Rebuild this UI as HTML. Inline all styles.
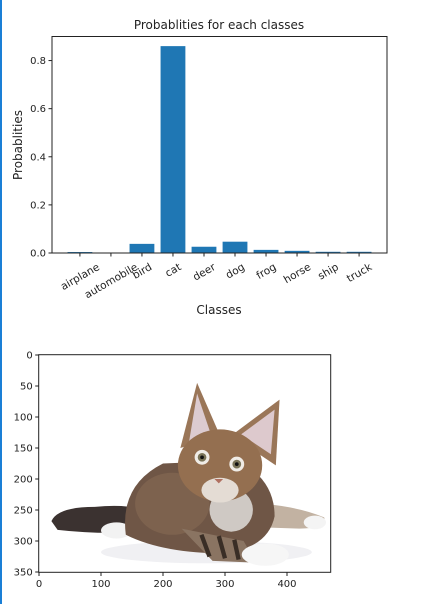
<!DOCTYPE html>
<html><head><meta charset="utf-8"><style>
body{margin:0;background:#fff;width:437px;height:604px;overflow:hidden;position:relative;font-family:"Liberation Sans","DejaVu Sans",sans-serif}
#edge{position:absolute;left:0;top:0;width:2px;height:604px;background:#1a7fd6}
svg{position:absolute;left:0;top:0}
text{font-family:"DejaVu Sans","Liberation Sans",sans-serif;fill:#222}
</style></head><body>
<div id="edge"></div>
<svg id="chart" width="437" height="604">
<text x="219" y="29" font-size="12" text-anchor="middle">Probablities for each classes</text>
<text transform="translate(22,145) rotate(-90)" font-size="12" text-anchor="middle">Probablities</text>
<text x="219" y="314" font-size="12" text-anchor="middle">Classes</text>
<g id="bars"></g><g id="xt"></g><g id="yt"></g>
<rect x="52" y="36.5" width="335" height="216.5" fill="none" stroke="#222" stroke-width="1"/>
</svg>
<svg width="437" height="604">
<svg x="38.7" y="354.7" width="292" height="217.6" viewBox="-0.5 -0.5 471 351" preserveAspectRatio="none">
<rect x="-1" y="-1" width="473" height="353" fill="#fff"/>
<ellipse cx="270" cy="318" rx="170" ry="18" fill="#f0f0f3"/>
<path d="M20 268 Q30 245 90 245 Q140 240 170 250 L170 285 Q100 290 30 282 Z" fill="#3b3230"/>
<ellipse cx="125" cy="283" rx="25" ry="13" fill="#f2f2f2"/>
<path d="M360 240 Q420 245 460 262 Q465 280 420 280 L360 278 Z" fill="#c2b2a2"/>
<ellipse cx="445" cy="270" rx="18" ry="11" fill="#f4f4f4"/>
<path d="M140 290 Q130 210 200 175 L320 170 Q380 200 380 260 Q370 310 300 320 Q200 320 140 290 Z" fill="#6f5646"/>
<ellipse cx="215" cy="240" rx="60" ry="50" fill="#7d624e"/>
<path d="M230 280 L330 300 L350 335 L280 332 Z" fill="#8a7462"/>
<path d="M262 290 L275 325 M290 292 L300 328 M315 298 L322 330" stroke="#3a2e26" stroke-width="7"/>
<ellipse cx="310" cy="250" rx="35" ry="35" fill="#cfc9c4"/>
<ellipse cx="365" cy="322" rx="38" ry="18" fill="#f6f6f6"/>
<path d="M228 150 L255 45 L292 130 Z" fill="#9a7658"/>
<path d="M242 140 L255 62 L278 130 Z" fill="#dccbd0"/>
<path d="M310 130 L388 72 L382 178 Z" fill="#9a7658"/>
<path d="M326 128 L380 88 L374 160 Z" fill="#ddc9cd"/>
<ellipse cx="292" cy="178" rx="68" ry="58" fill="#946f50"/>
<ellipse cx="292" cy="218" rx="30" ry="20" fill="#e4dcd4"/>
<circle cx="263" cy="165" r="12" fill="#f0ece6"/><circle cx="263" cy="165" r="7" fill="#7a7458"/><circle cx="263" cy="165" r="3" fill="#111"/>
<circle cx="319" cy="176" r="12" fill="#f0ece6"/><circle cx="319" cy="176" r="7" fill="#7a7458"/><circle cx="319" cy="176" r="3" fill="#111"/>
<path d="M283 200 L297 200 L290 207 Z" fill="#b07060"/>
</svg>
<rect x="38.7" y="354.7" width="292" height="217.6" fill="none" stroke="#222"/>
<g id="ixt"></g><g id="iyt"></g>
</svg>
<script>
const categories=["airplane","automobile","bird","cat","deer","dog","frog","horse","ship","truck"];
const probs=[0.004,0.001,0.038,0.86,0.026,0.047,0.013,0.009,0.005,0.005];
const yTicks=[0,0.2,0.4,0.6,0.8];
const imgXTicks=[0,100,200,300,400];
const imgYTicks=[0,50,100,150,200,250,300,350];
const NS="http://www.w3.org/2000/svg";
function mk(t,a,p){const e=document.createElementNS(NS,t);for(const k in a)e.setAttribute(k,a[k]);p.appendChild(e);return e;}
const X0=52,X1=387,Y0=253,Y1=36.5;
const xs=i=>X0+(i+0.9)/10.8*(X1-X0);
const ys=v=>Y0-v/0.9*(Y0-Y1);
const bw=0.8/10.8*(X1-X0);
const gb=document.getElementById('bars'),gx=document.getElementById('xt'),gy=document.getElementById('yt');
categories.forEach((c,i)=>{
 const r=mk('rect',{x:xs(i)-bw/2,y:ys(probs[i]),width:bw,height:Y0-ys(probs[i]),fill:'#1f77b4'},gb);
 
 
 mk('line',{x1:xs(i),x2:xs(i),y1:Y0,y2:Y0+3.5,stroke:'#222'},gx);
 const t=mk('text',{'font-size':'10.5','text-anchor':'middle',dy:'0.35em'},gx);
 t.textContent=c;
 
 
 const w=t.getComputedTextLength();
 const hh=(w*0.5+11*0.866)/2;
 t.setAttribute('transform',`translate(${xs(i)},${Y0+8+hh}) rotate(-30)`);
});
yTicks.forEach(v=>{
 mk('line',{x1:X0-3.5,x2:X0,y1:ys(v),y2:ys(v),stroke:'#222'},gy);
 const t=mk('text',{x:X0-6,y:ys(v)+3.5,'font-size':'10','text-anchor':'end'},gy);
 t.textContent=v.toFixed(1);
 
 
});
const IX0=38.7,IY0=354.7,sc=292/471;
const ix=v=>IX0+(v+0.5)*sc, iy=v=>IY0+(v+0.5)*sc;
const gix=document.getElementById('ixt'),giy=document.getElementById('iyt');
imgXTicks.forEach(v=>{
 mk('line',{x1:ix(v),x2:ix(v),y1:572.3,y2:576,stroke:'#222'},gix);
 const t=mk('text',{x:ix(v),y:587,'font-size':'10','text-anchor':'middle'},gix);
 t.textContent=v;
 
 
});
imgYTicks.forEach(v=>{
 mk('line',{x1:IX0-3.5,x2:IX0,y1:iy(v),y2:iy(v),stroke:'#222'},giy);
 const t=mk('text',{x:IX0-6,y:iy(v)+3.5,'font-size':'10','text-anchor':'end'},giy);
 t.textContent=v;
 
 
});
</script>
</body></html>
